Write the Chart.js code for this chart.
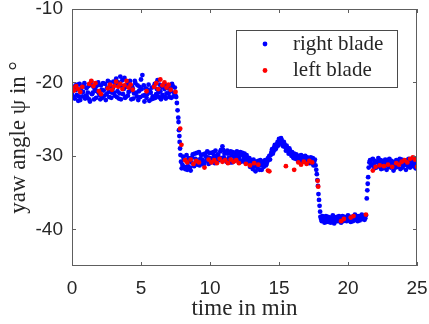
<!DOCTYPE html>
<html>
<head>
<meta charset="utf-8">
<title>Yaw angle of the blades</title>
<script src="https://cdn.jsdelivr.net/npm/chart.js@4.4.1/dist/chart.umd.min.js"></script>
<style>
  html, body { margin: 0; padding: 0; background: #fff; }
  #wrap { width: 429px; height: 324px; }
</style>
</head>
<body>
<div id="wrap"><canvas id="yawChart" width="429" height="324"></canvas></div>
<script>
// ------------------------------------------------------------
// Data (time in min, yaw angle in deg)
// ------------------------------------------------------------
const xTicks = [0, 5, 10, 15, 20, 25];
const yTicks = [-40, -30, -20, -10];

const rightTime = [
  0, 0.1, 0.2, 0.3, 0.4, 0.5, 0.6, 0.7, 0.8, 0.9,
  1, 1.1, 1.2, 1.3, 1.4, 1.5, 1.6, 1.7, 1.8, 1.9,
  2, 2.1, 2.2, 2.3, 2.4, 2.5, 2.6, 2.7, 2.8, 2.9,
  3, 3.1, 3.2, 3.3, 3.4, 3.5, 3.6, 3.7, 3.8, 3.9,
  4, 4.1, 4.2, 4.3, 4.4, 4.5, 4.6, 4.7, 4.8, 4.9,
  5, 5.1, 5.2, 5.3, 5.4, 5.5, 5.6, 5.7, 5.8, 5.9,
  6, 6.1, 6.2, 6.3, 6.4, 6.5, 6.6, 6.7, 6.8, 6.9,
  7, 7.1, 7.2, 7.3, 7.4, 7.5,
  7.55, 7.6, 7.65, 7.7, 7.72, 7.75, 7.78, 7.8, 7.83, 7.86, 7.9, 7.95,
  8, 8.1, 8.2, 8.3, 8.4, 8.5, 8.6, 8.7, 8.8, 8.9,
  9, 9.1, 9.2, 9.3, 9.4, 9.5, 9.6, 9.7, 9.8, 9.9,
  10, 10.1, 10.2, 10.3, 10.4, 10.5, 10.6, 10.7, 10.8, 10.9,
  11, 11.1, 11.2, 11.3, 11.4, 11.5, 11.6, 11.7, 11.8, 11.9,
  12, 12.1, 12.2, 12.3, 12.4, 12.5, 12.6, 12.7, 12.8, 12.9,
  13, 13.1, 13.2, 13.3, 13.4, 13.5, 13.6, 13.7, 13.8, 13.9,
  14, 14.1, 14.2, 14.3, 14.4, 14.5, 14.6, 14.7, 14.8, 14.9,
  15, 15.1, 15.2, 15.3, 15.4, 15.5, 15.6, 15.7, 15.8, 15.9,
  16, 16.1, 16.2, 16.3, 16.4, 16.5, 16.6, 16.7, 16.8, 16.9,
  17, 17.1, 17.2, 17.3, 17.4, 17.5, 17.6,
  17.65, 17.7, 17.74, 17.78, 17.82, 17.86, 17.9, 17.94, 17.98,
  18, 18.1, 18.2, 18.3, 18.4, 18.5, 18.6, 18.7, 18.8, 18.9,
  19, 19.1, 19.2, 19.3, 19.4, 19.5, 19.6, 19.7, 19.8, 19.9,
  20, 20.1, 20.2, 20.3, 20.4, 20.5, 20.6, 20.7, 20.8, 20.9,
  21, 21.1, 21.2, 21.3,
  21.36, 21.4, 21.43, 21.46, 21.5, 21.55,
  21.6, 21.7, 21.8, 21.9, 22, 22.1, 22.2, 22.3, 22.4, 22.5,
  22.6, 22.7, 22.8, 22.9, 23, 23.1, 23.2, 23.3, 23.4, 23.5,
  23.6, 23.7, 23.8, 23.9, 24, 24.1, 24.2, 24.3, 24.4, 24.5,
  24.6, 24.7, 24.8, 24.9, 25,
  // in-between samples
  0.05, 0.15, 0.25, 0.35, 0.45, 0.55, 0.65, 0.75, 0.85, 0.95,
  1.05, 1.15, 1.25, 1.35, 1.45, 1.55, 1.65, 1.75, 1.85, 1.95,
  2.05, 2.15, 2.25, 2.35, 2.45, 2.55, 2.65, 2.75, 2.85, 2.95,
  3.05, 3.15, 3.25, 3.35, 3.45, 3.55, 3.65, 3.75, 3.85, 3.95,
  4.05, 4.15, 4.25, 4.35, 4.45, 4.55, 4.65, 4.75, 4.85, 4.95,
  5.05, 5.15, 5.25, 5.35, 5.45, 5.55, 5.65, 5.75, 5.85, 5.95,
  6.05, 6.15, 6.25, 6.35, 6.45, 6.55, 6.65, 6.75, 6.85, 6.95,
  7.05, 7.15, 7.25, 7.35, 7.45,
  8.05, 8.15, 8.25, 8.35, 8.45, 8.55, 8.65, 8.75, 8.85, 8.95,
  9.05, 9.15, 9.25, 9.35, 9.45, 9.55, 9.65, 9.75, 9.85, 9.95,
  10.05, 10.15, 10.25, 10.35, 10.45, 10.55, 10.65, 10.75, 10.85, 10.95,
  11.05, 11.15, 11.25, 11.35, 11.45, 11.55, 11.65, 11.75, 11.85, 11.95,
  12.05, 12.15, 12.25, 12.35, 12.45, 12.55, 12.65, 12.75, 12.85, 12.95,
  13.05, 13.15, 13.25, 13.35, 13.45, 13.55, 13.65, 13.75, 13.85, 13.95,
  14.05, 14.15, 14.25, 14.35, 14.45, 14.55, 14.65, 14.75, 14.85, 14.95,
  15.05, 15.15, 15.25, 15.35, 15.45, 15.55, 15.65, 15.75, 15.85, 15.95,
  16.05, 16.15, 16.25, 16.35, 16.45, 16.55, 16.65, 16.75, 16.85, 16.95,
  17.05, 17.15, 17.25, 17.35, 17.45, 17.55,
  18.05, 18.15, 18.25, 18.35, 18.45, 18.55, 18.65, 18.75, 18.85, 18.95,
  19.05, 19.15, 19.25, 19.35, 19.45, 19.55, 19.65, 19.75, 19.85, 19.95,
  20.05, 20.15, 20.25, 20.35, 20.45, 20.55, 20.65, 20.75, 20.85, 20.95,
  21.05, 21.15, 21.25,
  21.65, 21.75, 21.85, 21.95, 22.05, 22.15, 22.25, 22.35, 22.45, 22.55,
  22.65, 22.75, 22.85, 22.95, 23.05, 23.15, 23.25, 23.35, 23.45, 23.55,
  23.65, 23.75, 23.85, 23.95, 24.05, 24.15, 24.25, 24.35, 24.45, 24.55,
  24.65, 24.75, 24.85, 24.95
];
const rightYaw = [
  -21.6, -20.8, -22.2, -21.0, -20.3, -21.9, -22.4, -20.6, -21.3, -20.1,
  -21.8, -22.0, -20.5, -22.6, -19.9, -21.4, -22.3, -20.7, -21.2, -20.0,
  -21.7, -20.4, -22.1, -21.1, -20.2, -21.6, -19.8, -22.0, -20.6, -21.4,
  -19.9, -21.8, -19.5, -21.2, -22.2, -19.2, -20.5, -21.6, -19.4, -22.0,
  -20.3, -21.3, -19.8, -22.3, -20.8, -21.5, -20.1, -21.9, -22.4, -20.6,
  -19.6, -19.0, -20.4, -21.7, -22.1, -21.0, -22.5, -21.4, -20.7, -22.2,
  -20.2, -21.6, -19.7, -22.0, -21.2, -20.6, -21.9, -20.9, -22.2, -20.4,
  -21.5, -20.8, -22.1, -20.5, -21.4, -21.8,
  -22.0, -22.8, -23.8, -24.8, -25.4, -26.5, -27.3, -28.1, -29.0, -29.9, -30.8, -31.7,
  -31.2, -30.4, -31.8, -29.9, -31.4, -30.7, -32.0, -30.2, -31.1, -29.7,
  -30.6, -31.2, -29.5, -30.4, -31.0, -29.8, -30.9, -30.1, -29.4, -31.1,
  -30.3, -29.6, -30.8, -30.0, -29.3, -30.7, -29.9, -30.5, -29.2, -28.7,
  -30.2, -29.5, -30.8, -29.7, -30.4, -29.4, -30.9, -30.1, -29.6, -30.6,
  -29.8, -30.3, -29.5, -30.7, -30.0, -29.7, -30.5, -30.2, -30.9, -31.5,
  -30.6, -31.8, -30.9, -32.1, -31.2, -30.7, -31.9, -31.3, -30.8, -31.5,
  -30.6, -31.1, -30.3, -30.0, -29.9, -29.1, -29.4, -28.5, -28.9, -28.1,
  -27.7, -28.3, -27.9, -28.7, -28.4, -29.3, -28.9, -29.7, -29.3, -30.0,
  -30.1, -29.7, -30.4, -30.0, -30.7, -30.2, -29.9, -30.8, -30.3, -30.0,
  -30.9, -30.4, -31.0, -30.2, -30.6, -31.3, -30.5,
  -31.3, -31.9, -32.5, -33.3, -34.1, -35.2, -36.0, -36.8, -37.6,
  -38.3, -38.9, -38.5, -39.1, -38.2, -38.7, -39.0, -38.4, -38.8, -38.1,
  -39.2, -38.6, -38.3, -38.9, -38.5, -39.1, -38.2, -38.7, -38.4, -38.9,
  -38.1, -38.6, -39.0, -38.3, -38.8, -38.0, -38.5, -38.9, -38.2, -38.6,
  -38.0, -38.4, -38.7, -38.1,
  -35.8, -34.7, -33.8, -32.9, -31.6, -30.9,
  -30.6, -31.3, -30.4, -31.7, -30.9, -31.5, -30.3, -31.1, -31.8, -30.7,
  -31.4, -30.5, -31.9, -31.0, -30.4, -31.6, -30.8, -32.0, -31.2, -30.6,
  -31.5, -30.9, -31.8, -30.5, -31.3, -30.7, -31.9, -31.0, -30.4, -31.6,
  -30.8, -31.4, -30.3, -31.7, -30.9,
  // in-between samples
  -20.9, -22.0, -20.4, -21.7, -22.5, -20.2, -21.1, -21.9, -20.5, -22.2,
  -20.8, -21.4, -22.3, -20.3, -21.6, -20.6, -21.0, -22.1, -20.4, -21.5,
  -22.3, -21.0, -20.1, -21.8, -22.4, -20.7, -21.3, -20.0, -22.1, -20.8,
  -21.4, -20.3, -22.0, -20.0, -21.5, -22.3, -19.7, -20.9, -22.1, -20.6,
  -21.8, -19.9, -21.1, -20.5, -22.2, -19.8, -21.4, -20.4, -21.2, -22.0,
  -20.9, -21.8, -22.6, -20.8, -21.6, -20.3, -21.2, -22.3, -21.9, -20.5,
  -22.1, -20.9, -21.4, -20.3, -22.3, -21.7, -20.4, -22.0, -21.5, -20.8,
  -22.0, -21.2, -20.2, -21.9, -20.7,
  -30.1, -31.5, -30.6, -31.9, -30.3, -31.6, -30.9, -29.8, -31.4, -30.4,
  -29.6, -30.8, -31.3, -29.9, -30.5, -31.2, -29.7, -30.6, -30.2, -29.6,
  -30.9, -30.4, -29.5, -31.0, -30.2, -29.8, -30.6, -29.4, -30.3, -29.2,
  -29.7, -30.6, -29.3, -30.3, -30.9, -29.9, -29.5, -30.7, -30.1, -29.4,
  -30.5, -29.9, -30.8, -29.6, -30.4, -30.9, -29.9, -30.6, -30.3, -30.8,
  -31.3, -30.5, -31.4, -30.8, -31.7, -31.1, -30.6, -31.9, -31.2, -30.7,
  -31.3, -30.8, -30.5, -30.5, -29.5, -29.7, -28.8, -29.1, -28.4, -28.6,
  -28.0, -27.6, -28.4, -28.1, -28.8, -28.6, -29.3, -29.0, -29.6, -29.5,
  -30.3, -30.1, -29.8, -30.5, -30.0, -30.6, -30.4, -30.1, -30.7, -30.5,
  -30.2, -30.8, -30.5, -31.0, -30.3, -30.8,
  -38.6, -38.2, -38.9, -38.5, -39.0, -38.3, -38.7, -39.1, -38.4, -38.7,
  -38.4, -38.9, -38.6, -38.2, -38.8, -38.5, -38.9, -38.3, -38.6, -38.4,
  -38.8, -38.3, -38.6, -38.9, -38.4, -38.7, -38.2, -38.5, -38.8, -38.3,
  -38.6, -38.2, -38.5,
  -31.0, -30.5, -31.2, -30.7, -31.6, -30.8, -31.4, -30.6, -31.2, -31.7,
  -30.9, -31.3, -30.6, -31.5, -31.1, -30.7, -31.4, -30.9, -31.6, -30.8,
  -31.2, -30.4, -31.1, -31.6, -30.8, -31.2, -30.6, -31.4, -30.9, -31.2,
  -30.5, -31.1, -30.7, -31.3
];

const leftTime = [
  0, 0.15, 0.3, 0.45, 0.6, 0.75,
  1.25, 1.4, 1.55, 1.7, 1.95, 2.1,
  2.6, 2.75, 2.9, 3.05, 3.2, 3.35, 3.5, 3.65, 3.8, 3.95, 4.1, 4.25, 4.4,
  5.4,
  5.95, 6.1, 6.25, 6.4, 6.55, 6.7, 6.85, 7, 7.15, 7.5,
  7.84, 7.93,
  8.2, 8.35, 8.6, 8.8, 9, 9.2, 9.6, 9.9, 10.1, 10.3, 10.5, 10.7, 10.9,
  11.1, 11.3, 11.5, 11.7, 11.9, 12.1, 12.6, 12.9, 13.2, 13.5,
  14.2, 14.3, 15.5, 16.1, 16.4, 16.6, 16.8, 17, 17.2, 17.4,
  17.8, 17.84,
  19.5, 19.7, 20.2, 20.4, 21.3,
  21.8, 22, 22.3, 22.6, 22.9, 23.2, 23.5, 23.7, 23.9, 24.1,
  24.3, 24.5, 24.7, 24.85, 25
];
const leftYaw = [
  -20.7, -21.1, -20.5, -20.9, -21.3, -20.6,
  -20.2, -19.8, -20.5, -20.1, -21.2, -21.6,
  -20.8, -20.3, -21.0, -20.5, -19.9, -20.6, -20.2, -20.9, -20.4, -19.8, -20.7, -20.3, -21.0,
  -21.2,
  -20.6, -20.1, -20.9, -19.6, -20.4, -20.0, -20.7, -20.3, -21.0, -21.3,
  -26.3, -28.5,
  -30.6, -30.9, -30.5, -31.1, -30.7, -30.9, -31.6, -30.5, -30.9, -30.6, -31.0, -30.4, -30.8,
  -30.6, -31.0, -30.5, -30.8, -30.6, -31.0, -31.1, -31.3, -31.0, -31.2,
  -32.0, -32.1, -31.4, -31.9, -30.9, -31.2, -30.8, -31.1, -30.7, -30.9,
  -33.4, -34.2,
  -38.9, -38.6, -38.4, -38.2, -38.0,
  -32.0, -31.5, -31.3, -31.4, -31.2, -31.5, -31.0, -31.2, -30.8, -30.6,
  -30.9, -30.4, -30.2, -30.5, -31.5
];

const seriesNames = ["right blade", "left blade"];
const seriesColors = ["#0000ff", "#ff0000"];

// ------------------------------------------------------------
// Helpers / plugins
// ------------------------------------------------------------
function toPoints(times, values) {
  return times.map((t, i) => ({ x: t, y: values[i] }));
}

// box around the plot with inward ticks on all four sides
const frameTicks = {
  id: "frameTicks",
  afterDatasetsDraw(chart) {
    const { ctx, chartArea: a, scales } = chart;
    const len = 4;
    ctx.save();
    ctx.strokeStyle = "#5e5e5e";
    ctx.lineWidth = 1;
    ctx.strokeRect(a.left + 0.5, a.top + 0.5, a.right - a.left - 1, a.bottom - a.top - 1);
    ctx.beginPath();
    scales.x.ticks.forEach((t) => {
      const px = Math.round(scales.x.getPixelForValue(t.value)) + 0.5;
      ctx.moveTo(px, a.bottom); ctx.lineTo(px, a.bottom - len);
      ctx.moveTo(px, a.top); ctx.lineTo(px, a.top + len);
    });
    scales.y.ticks.forEach((t) => {
      const py = Math.round(scales.y.getPixelForValue(t.value)) + 0.5;
      ctx.moveTo(a.left, py); ctx.lineTo(a.left + len, py);
      ctx.moveTo(a.right, py); ctx.lineTo(a.right - len, py);
    });
    ctx.stroke();
    ctx.restore();
  },
};

// MATLAB-like legend: framed box, one entry per row
const legendBox = {
  id: "legendBox",
  afterDraw(chart) {
    const { ctx, chartArea: a } = chart;
    const w = 161, h = 57;
    const x = a.right - 20 - w;
    const y = a.top + 21;
    ctx.save();
    ctx.fillStyle = "#ffffff";
    ctx.fillRect(x, y, w, h);
    ctx.strokeStyle = "#4a4a4a";
    ctx.lineWidth = 1;
    ctx.strokeRect(x + 0.5, y + 0.5, w, h);
    ctx.font = '21px "Liberation Serif", serif';
    ctx.textBaseline = "middle";
    chart.data.datasets.forEach((ds, i) => {
      const cy = y + 14 + i * 26.5;
      ctx.fillStyle = ds.backgroundColor;
      ctx.beginPath();
      ctx.arc(x + 29, cy, 2.4, 0, Math.PI * 2);
      ctx.fill();
      ctx.fillStyle = "#262626";
      ctx.fillText(ds.label, x + 57, cy);
    });
    ctx.restore();
  },
};

// ------------------------------------------------------------
// Chart
// ------------------------------------------------------------
window.addEventListener("load", function () {
  const ctx = document.getElementById("yawChart");

  new Chart(ctx, {
    type: "scatter",
    data: {
      datasets: [
        {
          label: seriesNames[0],
          data: toPoints(rightTime, rightYaw),
          backgroundColor: seriesColors[0],
          borderWidth: 0,
          pointRadius: 2.4,
          order: 1,
        },
        {
          label: seriesNames[1],
          data: toPoints(leftTime, leftYaw),
          backgroundColor: seriesColors[1],
          borderWidth: 0,
          pointRadius: 2.4,
          order: 0,
        },
      ],
    },
    options: {
      responsive: false,
      animation: false,
      devicePixelRatio: 1,
      layout: { padding: { top: 9, right: 12, bottom: 0, left: 0 } },
      plugins: {
        legend: { display: false },
        tooltip: { enabled: false },
      },
      scales: {
        x: {
          type: "linear",
          min: 0,
          max: 25,
          afterBuildTicks: (s) => { s.ticks = xTicks.map((v) => ({ value: v })); },
          afterFit: (s) => { s.height = 58; s.paddingLeft = 0; s.paddingRight = 0; },
          grid: { display: false, drawTicks: false },
          border: { display: false },
          ticks: {
            padding: 11,
            color: "#262626",
            font: { family: '"Liberation Sans", Arial, sans-serif', size: 19 },
          },
          title: {
            display: true,
            text: "time in min",
            color: "#262626",
            font: { family: '"Liberation Serif", serif', size: 23 },
            padding: { top: 0, bottom: 1 },
          },
        },
        y: {
          type: "linear",
          min: -45,
          max: -10,
          afterBuildTicks: (s) => { s.ticks = yTicks.map((v) => ({ value: v })); },
          afterFit: (s) => { s.width = 72; s.paddingTop = 0; s.paddingBottom = 0; },
          grid: { display: false, drawTicks: false },
          border: { display: false },
          ticks: {
            padding: 9,
            color: "#262626",
            font: { family: '"Liberation Sans", Arial, sans-serif', size: 19 },
          },
          title: {
            display: true,
            text: "yaw angle ψ in °",
            color: "#262626",
            font: { family: '"Liberation Serif", serif', size: 23 },
            padding: { top: 5, bottom: 0 },
          },
        },
      },
    },
    plugins: [frameTicks, legendBox],
  });
});
</script>
</body>
</html>
